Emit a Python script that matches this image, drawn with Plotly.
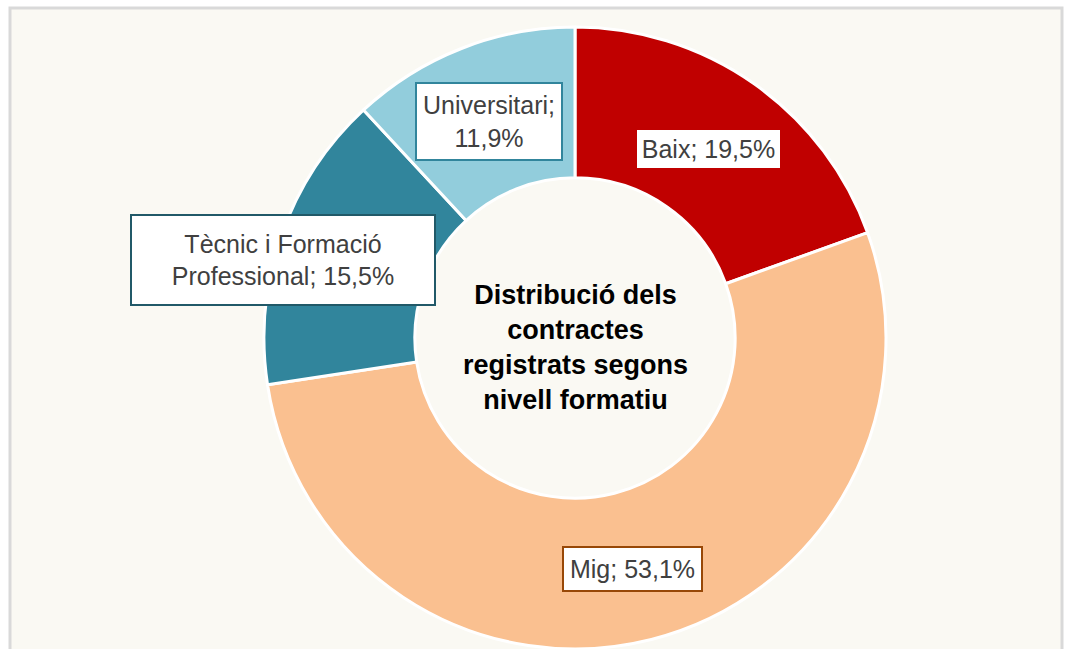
import plotly.graph_objects as go

categories = ["Baix", "Mig", "Tècnic i Formació Professional", "Universitari"]
values = [19.5, 53.1, 15.5, 11.9]
colors = ["#C00000", "#FAC090", "#31859C", "#92CDDC"]
label_text = ["Baix; 19,5%", "Mig; 53,1%", "Tècnic i Formació<br>Professional; 15,5%", "Universitari;<br>11,9%"]
label_border = ["#C00000", "#984807", "#215968", "#31859C"]
label_pos = [(708, 149), (632, 569), (283, 260), (489, 122)]
label_box = [(147, 42), (141, 46), (306, 92), (148, 79)]
center_title = "Distribució dels<br>contractes<br>registrats segons<br>nivell formatiu"

W, H = 1066, 649
cx, cy, r = 575, 338, 311

fig = go.Figure()
fig.add_trace(go.Pie(
    labels=categories, values=values, sort=False, direction="clockwise", rotation=0,
    hole=0.515, marker=dict(colors=colors, line=dict(color="white", width=3)),
    textinfo="none", hoverinfo="label+percent", showlegend=False,
    domain=dict(x=[(cx - r) / W, (cx + r) / W], y=[1 - (cy + r) / H, 1 - (cy - r) / H]),
))

for txt, bc, (px, py), (bw, bh) in zip(label_text, label_border, label_pos, label_box):
    fig.add_annotation(
        x=px / W, y=1 - py / H, xref="paper", yref="paper", text=txt, showarrow=False,
        xanchor="center", yanchor="middle", width=bw - 8, height=bh - 8,
        font=dict(family="Liberation Sans, Arial", size=25, color="#404040"),
        bgcolor="white", bordercolor=bc, borderwidth=2, borderpad=2, align="center", valign="middle",
    )

fig.add_annotation(
    x=cx / W, y=1 - 347 / H, xref="paper", yref="paper", text="<b>" + center_title + "</b>",
    showarrow=False, align="center", xanchor="center", yanchor="middle",
    font=dict(family="Liberation Sans, Arial", size=27, color="#000000"),
)

fig.add_shape(type="rect", xref="paper", yref="paper", x0=10 / W, x1=1062 / W, y0=-0.05, y1=1 - 8 / H,
              line=dict(color="#D9D9D9", width=3), fillcolor="#FAF9F3", layer="below")

fig.update_layout(
    width=W, height=H, margin=dict(l=0, r=0, t=0, b=0),
    paper_bgcolor="white", plot_bgcolor="white",
)
fig.write_html("out.html", config={"displayModeBar": False},
               post_script="document.body.style.margin='0';document.body.style.overflow='hidden';")
